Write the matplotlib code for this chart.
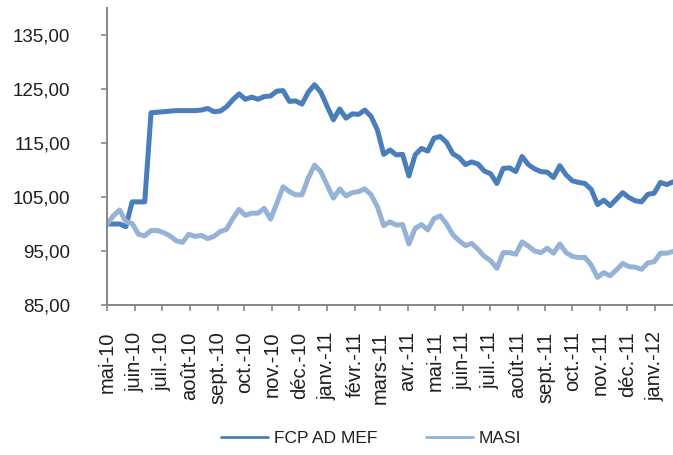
"""
FCP AD MEF vs MASI, weekly base-100 performance (mai 2010 - janv. 2012).
"""
import matplotlib

matplotlib.use("Agg")
import matplotlib.pyplot as plt
import pandas as pd

plt.rcParams.update({
    "font.family": ["Liberation Sans", "DejaVu Sans"],
    "text.color": "#1f1f1f",
    "xtick.color": "#868686",
    "ytick.color": "#868686",
    "xtick.labelcolor": "#1f1f1f",
    "ytick.labelcolor": "#1f1f1f",
})

C_FCP = "#4A7EBB"
C_MASI = "#95B3D7"
C_AXIS = "#868686"

# ---------------------------------------------------------------------------
# Data, one point per week
# ---------------------------------------------------------------------------
START = "2010-05-07"
N_WEEKS = 91
DATES = pd.date_range(START, periods=N_WEEKS, freq="7D")

FCP = [
    100.0, 100.0, 100.0, 99.5, 104.1, 104.1, 104.1, 120.6, 120.7, 120.8,
    120.9, 121.0, 121.0, 121.0, 121.0, 121.1, 121.4, 120.8, 120.9, 121.7,
    123.0, 124.1, 123.1, 123.5, 123.1, 123.6, 123.7, 124.6, 124.7, 122.7,
    122.8, 122.2, 124.4, 125.8, 124.4, 121.8, 119.3, 121.3, 119.6, 120.4,
    120.3, 121.1, 119.9, 117.4, 112.9, 113.7, 112.8, 112.9, 108.9, 112.8,
    114.0, 113.5, 115.9, 116.2, 115.1, 113.0, 112.3, 111.0, 111.5, 111.1,
    109.8, 109.3, 107.5, 110.3, 110.4, 109.7, 112.5, 111.0, 110.2, 109.7,
    109.6, 108.6, 110.8, 109.1, 108.0, 107.7, 107.5, 106.4, 103.6, 104.4,
    103.4, 104.6, 105.8, 104.9, 104.3, 104.1, 105.5, 105.7, 107.7, 107.3,
    107.8,
]
MASI = [
    100.0, 101.5, 102.6, 100.4, 100.1, 98.1, 97.8, 98.8, 98.8, 98.4,
    97.8, 96.9, 96.6, 98.1, 97.7, 97.9, 97.3, 97.7, 98.6, 99.0,
    101.0, 102.7, 101.6, 102.0, 102.0, 102.9, 100.9, 103.8, 106.9, 106.0,
    105.4, 105.4, 108.5, 110.9, 109.7, 107.2, 104.8, 106.5, 105.2, 105.8,
    106.0, 106.5, 105.4, 103.2, 99.7, 100.4, 99.8, 99.9, 96.3, 99.2,
    99.9, 98.9, 101.0, 101.5, 100.0, 98.0, 96.9, 96.0, 96.4, 95.3,
    94.0, 93.2, 91.8, 94.7, 94.7, 94.4, 96.7, 95.9, 95.0, 94.7,
    95.5, 94.6, 96.3, 94.7, 94.0, 93.8, 93.8, 92.4, 90.1, 91.0,
    90.4, 91.5, 92.7, 92.1, 92.0, 91.6, 92.8, 93.0, 94.6, 94.6,
    94.9,
]

MONTH_LABELS = [
    "mai-10", "juin-10", "juil.-10", "août-10", "sept.-10", "oct.-10",
    "nov.-10", "déc.-10", "janv.-11", "févr.-11", "mars-11", "avr.-11",
    "mai-11", "juin-11", "juil.-11", "août-11", "sept.-11", "oct.-11",
    "nov.-11", "déc.-11", "janv.-12",
]
Y_TICKS = [85, 95, 105, 115, 125, 135]

# ---------------------------------------------------------------------------
fig = plt.figure(figsize=(6.73, 4.55), dpi=100)
ax = fig.add_axes([107 / 673, 1 - 305 / 455, 1 - 107 / 673, (305 - 8) / 455])

ax.plot(DATES, FCP, color=C_FCP, lw=3.6, solid_joinstyle="round",
        solid_capstyle="round", label="FCP AD MEF")
ax.plot(DATES, MASI, color=C_MASI, lw=3.6, solid_joinstyle="round",
        solid_capstyle="round", label="MASI")

ax.set_ylim(85, 140)
ax.set_yticks(Y_TICKS)
ax.set_yticklabels([f"{v:.2f}".replace(".", ",") for v in Y_TICKS])

ax.set_xlim(DATES[0], DATES[-1])
month_ticks = [pd.Timestamp(START) + pd.DateOffset(months=k)
               for k in range(len(MONTH_LABELS))]
ax.set_xticks(month_ticks)
ax.set_xticklabels(MONTH_LABELS, rotation=90, va="top", ha="center")

ax.tick_params(axis="y", direction="out", length=4.5, width=1.2,
               labelsize=13.5, pad=22)
ax.tick_params(axis="x", direction="out", length=4.0, width=1.2,
               labelsize=14.5, pad=15)
for sp in ("top", "right"):
    ax.spines[sp].set_visible(False)
for sp in ("left", "bottom"):
    ax.spines[sp].set_color(C_AXIS)
    ax.spines[sp].set_linewidth(1.4)

leg = fig.legend(loc="center", bbox_to_anchor=(371 / 673, 1 - 438 / 455),
                 ncol=2, frameon=False, fontsize=12.5, handlelength=2.7,
                 handletextpad=0.35, columnspacing=2.8)
for h in leg.get_lines():
    h.set_linewidth(2.0)

fig.savefig("out.png", dpi=100)
